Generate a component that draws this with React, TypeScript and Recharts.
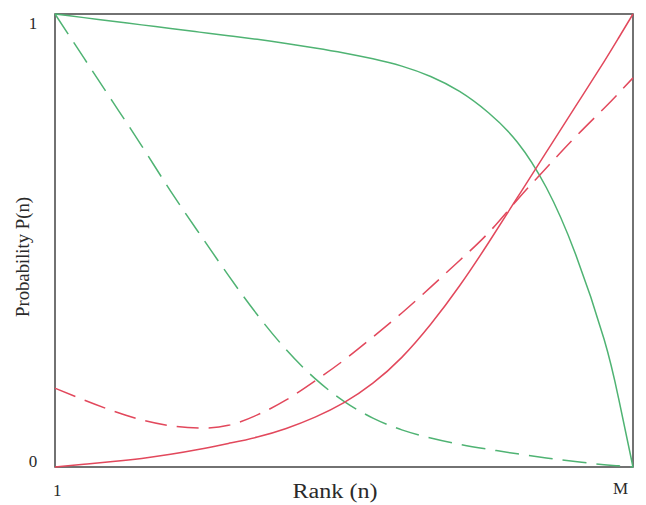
import React from "react";
import { LineChart, Line, XAxis, YAxis, ReferenceArea } from "recharts";

// Normalised rank position (0 = rank 1, 1 = rank M)
const rankPositions = [0, 0.05, 0.1, 0.15, 0.2, 0.25, 0.3, 0.35, 0.4, 0.45, 0.5, 0.55, 0.6, 0.65, 0.7, 0.75, 0.8, 0.85, 0.9, 0.95, 0.975, 1];

const greenSolid = [1, 0.992, 0.984, 0.976, 0.968, 0.96, 0.952, 0.944, 0.935, 0.925, 0.914, 0.901, 0.885, 0.862, 0.829, 0.782, 0.717, 0.617, 0.472, 0.282, 0.152, 0];
const greenDashed = [1, 0.903, 0.806, 0.709, 0.609, 0.515, 0.423, 0.336, 0.259, 0.195, 0.145, 0.108, 0.082, 0.064, 0.05, 0.039, 0.029, 0.02, 0.012, 0.005, 0.0025, 0];
const redSolid = [0, 0.006, 0.012, 0.019, 0.028, 0.039, 0.052, 0.066, 0.085, 0.11, 0.142, 0.185, 0.242, 0.315, 0.4, 0.495, 0.595, 0.695, 0.795, 0.895, 0.947, 1];
const redDashed = [0.174, 0.148, 0.124, 0.104, 0.091, 0.086, 0.092, 0.115, 0.148, 0.19, 0.236, 0.287, 0.34, 0.397, 0.456, 0.517, 0.59, 0.66, 0.728, 0.792, 0.825, 0.859];

const xTicks = [0, 1];
const xTickLabels = ["1", "M"];
const yTicks = [0, 1];
const yTickLabels = ["0", "1"];

const xTitle = "Rank (n)";
const yTitle = "Probability P(n)";

const rows = rankPositions.map((t, i) => ({
  t,
  greenSolid: greenSolid[i],
  greenDashed: greenDashed[i],
  redSolid: redSolid[i],
  redDashed: redDashed[i],
}));

const GREEN = "#4fb373";
const RED = "#e2485c";
const FONT = "'Liberation Serif', 'Times New Roman', serif";

const XTick = (props: any) => {
  const { x, payload } = props;
  const idx = xTicks.indexOf(payload.value);
  const first = idx === 0;
  return (
    <text
      x={first ? x - 2 : x - 20}
      y={first ? 488 : 486}
      fontFamily={FONT}
      fontSize={17}
      fill="#2a2a2a"
      textAnchor="start"
    >
      {xTickLabels[idx]}
    </text>
  );
};

const YTick = (props: any) => {
  const { y, payload } = props;
  const idx = yTicks.indexOf(payload.value);
  return (
    <text
      x={25}
      y={payload.value === 1 ? y + 12 : y - 0}
      fontFamily={FONT}
      fontSize={17}
      fill="#2a2a2a"
      textAnchor="middle"
    >
      {yTickLabels[idx]}
    </text>
  );
};

export default function App() {
  return (
    <LineChart
      width={638}
      height={497}
      data={rows}
      margin={{ top: 6, right: 13, left: 0, bottom: 8 }}
    >
      <XAxis
        dataKey="t"
        type="number"
        domain={[0, 1]}
        ticks={xTicks}
        tick={<XTick />}
        tickLine={false}
        axisLine={false}
        height={30}
        label={{
          content: () => (
            <text
              x={327}
              y={490}
              fontFamily={FONT}
              fontSize={20}
              fill="#2a2a2a"
              textAnchor="middle"
              textLength={85}
              lengthAdjust="spacingAndGlyphs"
            >
              {xTitle}
            </text>
          ),
        }}
      />
      <YAxis
        type="number"
        domain={[0, 1]}
        ticks={yTicks}
        tick={<YTick />}
        tickLine={false}
        axisLine={false}
        width={47}
        label={{
          content: () => (
            <text
              x={15}
              y={249}
              transform="rotate(-90 15 249)"
              fontFamily={FONT}
              fontSize={18.5}
              fill="#2a2a2a"
              textAnchor="middle"
              dominantBaseline="central"
              textLength={120}
              lengthAdjust="spacingAndGlyphs"
            >
              {yTitle}
            </text>
          ),
        }}
      />
      <ReferenceArea x1={0} x2={1} y1={0} y2={1} fill="none" stroke="#444" strokeWidth={1.5} />
      <Line dataKey="greenSolid" type="natural" stroke={GREEN} strokeWidth={1.5} dot={false} isAnimationActive={false} />
      <Line dataKey="greenDashed" type="natural" stroke={GREEN} strokeWidth={1.5} strokeDasharray="24 10" dot={false} isAnimationActive={false} />
      <Line dataKey="redSolid" type="natural" stroke={RED} strokeWidth={1.5} dot={false} isAnimationActive={false} />
      <Line dataKey="redDashed" type="natural" stroke={RED} strokeWidth={1.5} strokeDasharray="22 10" dot={false} isAnimationActive={false} />
    </LineChart>
  );
}
